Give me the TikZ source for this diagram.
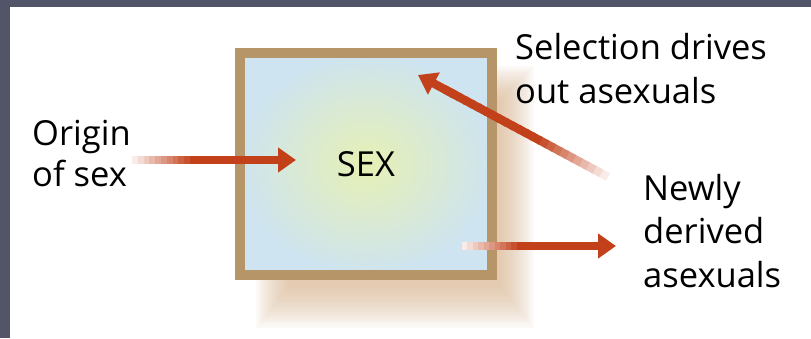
\documentclass[tikz,border=0pt]{standalone}
\usepackage{fontspec}
\setmainfont{Open Sans}
\usetikzlibrary{calc,arrows.meta}

\definecolor{framegray}{RGB}{82,84,104}
\definecolor{boxtan}{RGB}{182,150,104}
\definecolor{boxblue}{RGB}{206,228,240}
\definecolor{boxglow}{RGB}{230,240,180}
\definecolor{shadowtan}{RGB}{218,180,140}
\definecolor{arrowred}{RGB}{194,64,26}

\begin{document}
\begin{tikzpicture}[x=1pt,y=-1pt,
  lbltext/.style={font=\fontsize{34.5}{43.5}\selectfont,align=left,inner sep=0pt,anchor=base west},
  shaft/.style={line width=8.5pt},
  headarrow/.style={shaft,arrowred,-{Triangle[length=18pt,width=24pt]}}]
\useasboundingbox (0,0) rectangle (811,338);
\fill[white] (0,0) rectangle (811,338);
\fill[framegray] (0,0) rectangle (811,7);
\fill[framegray] (0,0) rectangle (10,338);

% soft shadow behind the box
\foreach \i in {0,...,17}{
  \fill[shadowtan,opacity=0.055] (256+2*\i,66+2*\i) rectangle (534-2*\i,328-2.5*\i);
}
\node[draw=boxtan,line width=10pt,inner color=boxglow,outer color=boxblue,
  minimum width=252pt,minimum height=222pt,font=\fontsize{34.5}{40}\selectfont] (sexbox) at (366,164) {SEX};

\coordinate (intail) at (132,160);
\coordinate (intip) at (296,160);
\coordinate (seltail) at (608,177);
\coordinate (seltip) at (418,75);
\coordinate (newtail) at (462,246);
\coordinate (newtip) at (616,246);

% arrows fading in from the tail
\foreach \a/\b in {intail/intip,seltail/seltip,newtail/newtip}{
  \foreach \i in {0,...,23}{
    \pgfmathtruncatemacro\p{min(100,10+9*\i)}
    \pgfmathsetmacro\s{0.85*\i/24}
    \pgfmathsetmacro\e{0.85*(\i+1.3)/24}
    \draw[shaft,arrowred!\p!white] ($(\a)!\s!(\b)$) -- ($(\a)!\e!(\b)$);
  }
  \draw[headarrow] ($(\a)!0.8!(\b)$) -- (\b);
}

% base anchor sits on the last line
\node[lbltext,font=\fontsize{34.5}{41}\selectfont] (origin) at (32,186) {Origin\\of sex};
\node[lbltext] (selection) at (515,103) {Selection drives\\out asexuals};
\node[lbltext] (newly) at (643,287) {Newly\\derived\\asexuals};
\end{tikzpicture}
\end{document}
